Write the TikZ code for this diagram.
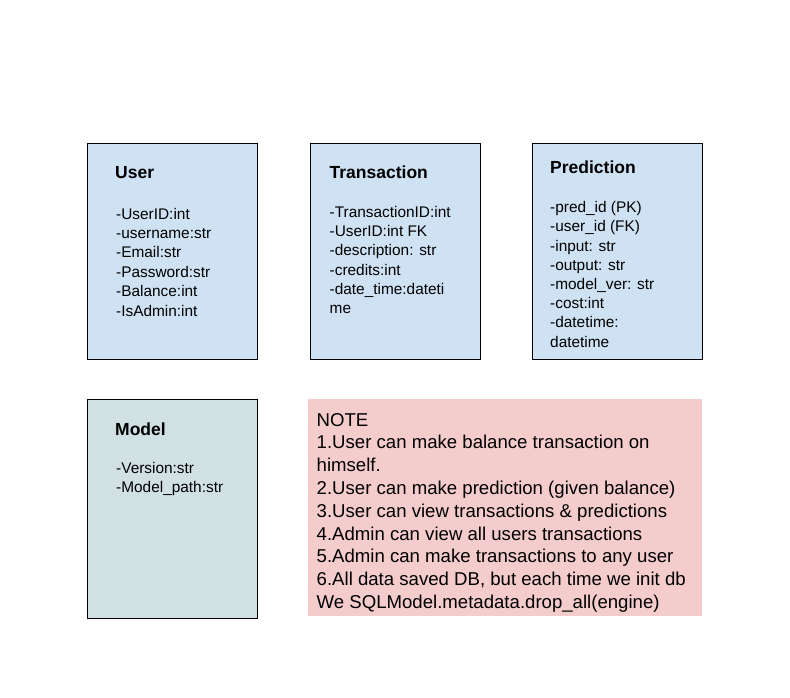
\documentclass[tikz,border=0pt]{standalone}
\usepackage{fontspec}
\setmainfont{Liberation Sans}
\usepackage{tikz}
\definecolor{entityblue}{HTML}{CFE2F3}
\definecolor{modelgrey}{HTML}{D0E0E3}
\definecolor{notepink}{HTML}{F4CCCC}
\tikzset{entity/.style = {shape = rectangle, draw = black, line width = 1pt, anchor = north west, inner sep = 0pt, minimum width = 170pt, minimum height = 216pt}}
\tikzset{title/.style = {anchor = base west, inner sep = 0pt, font = \fontsize{17.5}{21}\selectfont\bfseries}}
% multi-line texts sit on the baseline of their last line
\tikzset{attrs/.style = {anchor = base west, inner sep = 0pt, align = left, font = \fontsize{15.4}{19.4}\selectfont}}
\tikzset{notetext/.style = {anchor = base west, inner sep = 0pt, align = left, font = \fontsize{18.6}{22.8}\selectfont}}

\begin{document}
\begin{tikzpicture}[x = 1pt, y = -1pt]
				\useasboundingbox[fill = white] (0, 0) rectangle (790, 697);

				% entity boxes
				\node[entity, fill = entityblue] (user) at (87, 142.5) {};
				\node[entity, fill = entityblue] (trans) at (309.5, 142.5) {};
				\node[entity, fill = entityblue] (pred) at (531.5, 142.5) {};
				\node[entity, fill = modelgrey, minimum height = 219pt] (model) at (87, 398.5) {};
				\node[anchor = north west, fill = notepink, inner sep = 0pt, minimum width = 394pt, minimum height = 217pt] (note) at (307.5, 399) {};

				% titles
				\node[title] (usertitle) at (115, 178.5) {User};
				\node[title] (transtitle) at (329.5, 178.5) {Transaction};
				\node[title] (predtitle) at (550, 173.5) {Prediction};
				\node[title] (modeltitle) at (115, 435) {Model};

				% attributes
				\node[attrs] (userattrs) at (116, 316) {-UserID:int\\-username:str\\-Email:str\\-Password:str\\-Balance:int\\-IsAdmin:int};
				\node[attrs, font = \fontsize{15.4}{19.2}\selectfont] (transattrs) at (329.5, 313.5) {-TransactionID:int\\-UserID:int FK\\-description: str\\-credits:int\\-date\_time:dateti\\me};
				\node[attrs, font = \fontsize{15.4}{19.2}\selectfont] (predattrs) at (550, 347) {-pred\_id (PK)\\-user\_id (FK)\\-input: str\\-output: str\\-model\_ver: str\\-cost:int\\-datetime:\\datetime};
				\node[attrs, font = \fontsize{15.4}{18.6}\selectfont] (modelattrs) at (116, 492) {-Version:str\\-Model\_path:str};

				% note text
				\node[notetext] (notelines) at (316.5, 608.5) {NOTE\\1.User can make balance transaction on\\himself.\\2.User can make prediction (given balance)\\3.User can view transactions \& predictions\\4.Admin can view all users transactions\\5.Admin can make transactions to any user\\6.All data saved DB, but each time we init db\\We SQLModel.metadata.drop\_all(engine)};
			\end{tikzpicture}
\end{document}
